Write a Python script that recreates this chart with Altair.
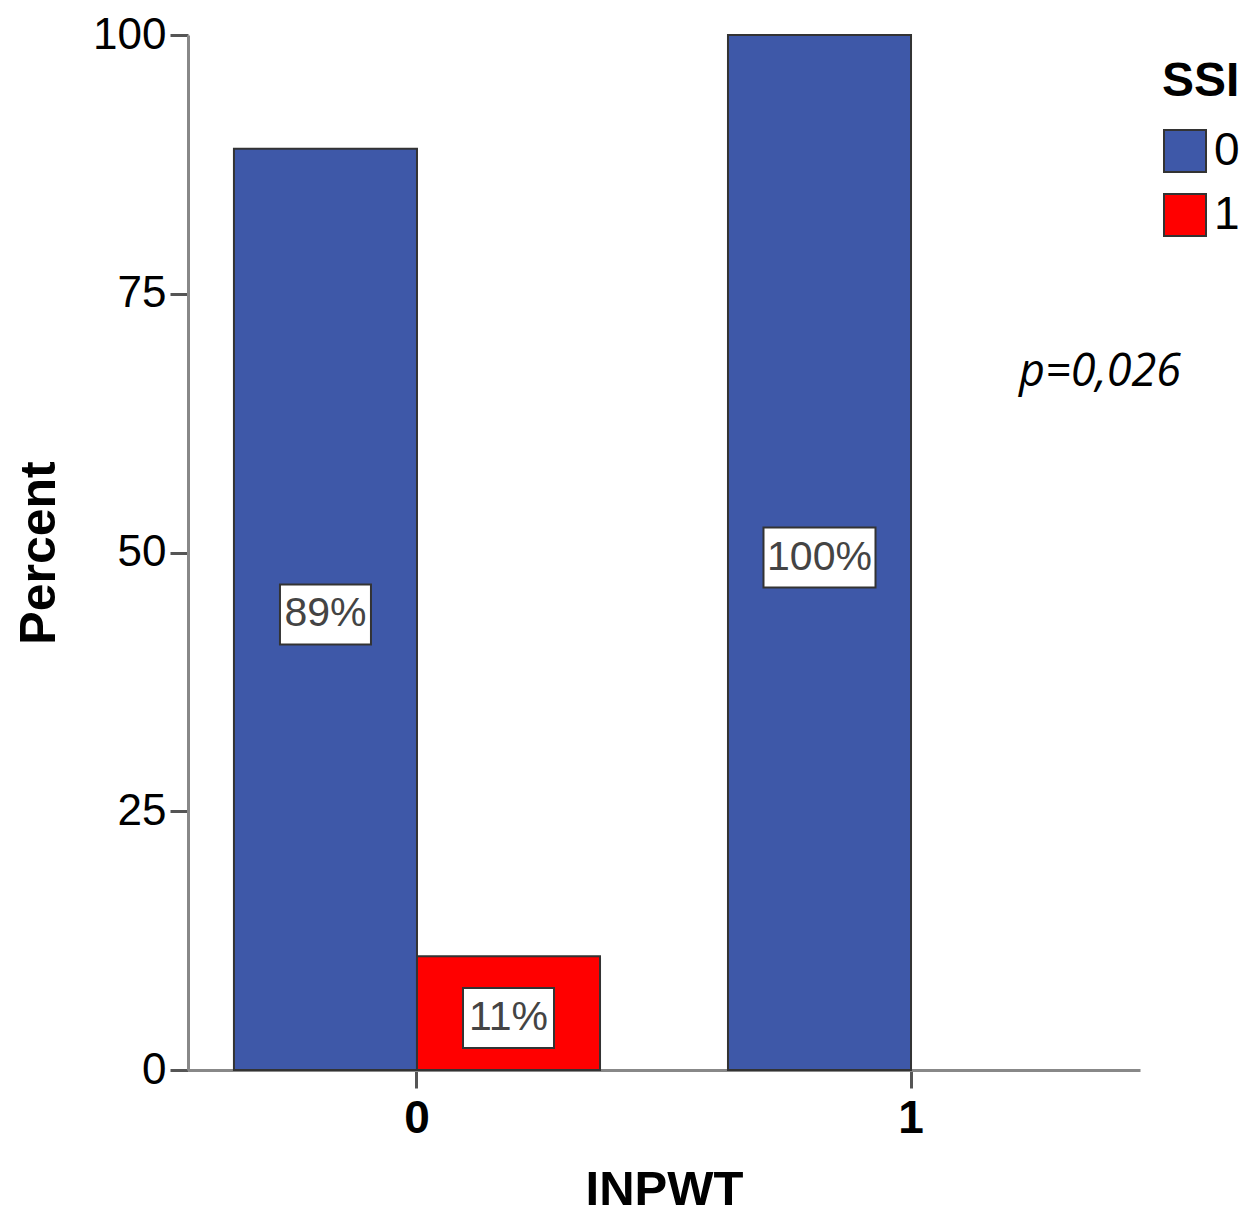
import altair as alt
import pandas as pd

inpwt = ["0", "0", "1", "1"]
ssi = ["0", "1", "0", "1"]
percent = [89, 11, 100, 0]
labels = ["89%", "11%", "100%", ""]
p_text = "p=0,026"

df = pd.DataFrame({"INPWT": inpwt, "SSI": ssi, "Percent": percent, "label": labels})
df["half"] = df["Percent"] / 2

FONT = "Liberation Sans"

x_enc = alt.X("INPWT:N", title="INPWT",
              scale=alt.Scale(paddingInner=0.259, paddingOuter=0.093),
              axis=alt.Axis(labelAngle=0, labelFontWeight="bold", labelFontSize=46,
                            labelFont=FONT, labelColor="#000", labelPadding=8,
                            tickSize=18, tickWidth=3, tickColor="#555",
                            domainColor="#888", domainWidth=3,
                            titleFontSize=49, titleFontWeight="bold", titleFont=FONT,
                            titlePadding=24, titleColor="#000"))
xo_enc = alt.XOffset("SSI:N", scale=alt.Scale(domain=["0", "1"], paddingInner=0, paddingOuter=0))

bars = alt.Chart(df).transform_filter("datum.Percent > 0").mark_bar(
    stroke="#333", strokeWidth=2).encode(
    x=x_enc,
    xOffset=xo_enc,
    y=alt.Y("Percent:Q", title="Percent",
            scale=alt.Scale(domain=[0, 100], nice=False),
            axis=alt.Axis(values=[0, 25, 50, 75, 100], grid=False,
                          labelFontSize=44, labelFont=FONT, labelColor="#000",
                          labelPadding=4, tickSize=18, tickWidth=3, tickColor="#555",
                          domainColor="#888", domainWidth=3,
                          titleFontSize=50, titleFontWeight="bold", titleFont=FONT,
                          titlePadding=28, titleColor="#000")),
    color=alt.Color("SSI:N", title="SSI",
                    scale=alt.Scale(domain=["0", "1"], range=["#3E58A8", "#FF0000"]),
                    legend=alt.Legend(orient="none", legendX=974, legendY=23,
                                      symbolType="square", symbolSize=1764,
                                      symbolStrokeColor="#333", symbolStrokeWidth=2,
                                      labelFontSize=46, labelFont=FONT, labelColor="#000",
                                      labelOffset=6, rowPadding=14,
                                      titleFontSize=48, titleFontWeight="bold",
                                      titleFont=FONT, titleColor="#000", titlePadding=22)),
)

narrow = "M-1,-0.659L1,-0.659L1,0.659L-1,0.659Z"
wide = "M-1,-0.536L1,-0.536L1,0.536L-1,0.536Z"

boxes = alt.Chart(df).transform_filter("datum.Percent > 0").mark_point(
    filled=True, fill="white", stroke="#333", strokeWidth=2, opacity=1, yOffset=5).encode(
    x=alt.X("INPWT:N"),
    xOffset=alt.XOffset("SSI:N"),
    y=alt.Y("half:Q"),
    shape=alt.condition(alt.datum.label == "100%", alt.value(wide), alt.value(narrow)),
    size=alt.condition(alt.datum.label == "100%", alt.value(12544), alt.value(8281)),
)

texts = alt.Chart(df).transform_filter("datum.Percent > 0").mark_text(
    font=FONT, fontSize=41, color="#444", baseline="middle", align="center", dy=5).encode(
    x=alt.X("INPWT:N"),
    xOffset=alt.XOffset("SSI:N"),
    y=alt.Y("half:Q"),
    text="label:N",
)

ptext = alt.Chart(pd.DataFrame({"t": [p_text]})).mark_text(
    font="Open Sans", fontStyle="italic", fontSize=45, color="#000",
    align="center", baseline="middle").encode(
    x=alt.value(912), y=alt.value(337), text="t:N")

chart = alt.layer(bars, boxes, texts, ptext).properties(
    width=952, height=1035,
    autosize=alt.AutoSizeParams(type="none"),
    padding={"left": 180, "top": 27, "right": 101, "bottom": 145},
).configure_view(stroke=None).configure_axis(labelFontWeight="normal")

chart.save("out.html", embed_options={"renderer": "svg", "actions": False})
